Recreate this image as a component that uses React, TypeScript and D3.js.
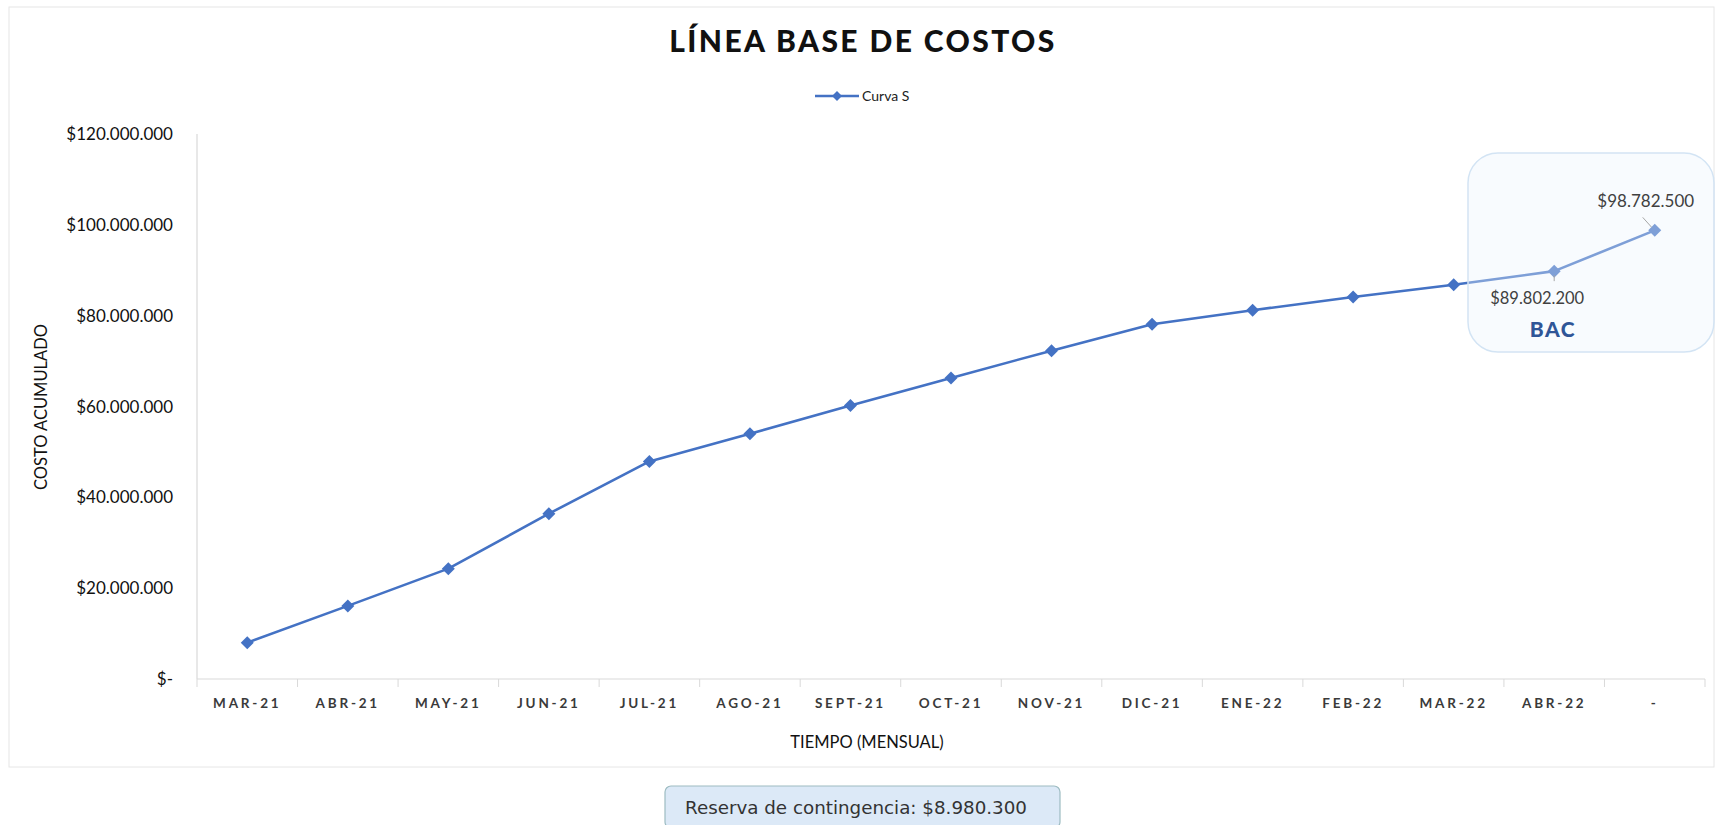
import React from 'react';
import * as d3 from 'd3';

// Datos
const categories = ['MAR-21', 'ABR-21', 'MAY-21', 'JUN-21', 'JUL-21', 'AGO-21', 'SEPT-21', 'OCT-21', 'NOV-21', 'DIC-21', 'ENE-22', 'FEB-22', 'MAR-22', 'ABR-22', '-'];
const costs = [8000000, 16100000, 24300000, 36400000, 47900000, 54000000, 60200000, 66300000, 72300000, 78100000, 81200000, 84100000, 86800000, 89802200, 98782500];
const yTicks = [0, 20000000, 40000000, 60000000, 80000000, 100000000, 120000000];
const seriesName = 'Curva S';
const contingency = 8980300;

const W = 1717;
const H = 825;
const BLUE = '#4472c4';
const FONT = 'Lato, "Open Sans", sans-serif';

const money = (v: number) => (v === 0 ? '$-' : '$' + d3.format(',')(v).replace(/,/g, '.'));

const diamond = (cx: number, cy: number, r: number) =>
  `M${cx},${cy - r}L${cx + r},${cy}L${cx},${cy + r}L${cx - r},${cy}Z`;

const App = () => {
  const x = d3.scaleBand().domain(categories).range([197, 1705]);
  const y = d3.scaleLinear().domain([0, 120000000]).range([679, 134]);
  const cx = (c: string) => (x(c) as number) + x.bandwidth() / 2;

  const line = d3.line<number>()
    .x((_, i) => cx(categories[i]))
    .y(d => y(d));

  const last = costs.length - 1;
  const pLast = { x: cx(categories[last]), y: y(costs[last]) };
  const pPrev = { x: cx(categories[last - 1]), y: y(costs[last - 1]) };

  return (
    <div style={{ position: 'absolute', left: 0, top: 0 }}>
      <svg width={W} height={H} style={{ display: 'block', background: '#fff' }}>
        {/* chart frame */}
        <rect x={9} y={7} width={1705} height={760} fill="#fff" stroke="#e6e6e6" strokeWidth={1} />

        {/* title */}
        <text x={863} y={52} textAnchor="middle" fontFamily={FONT} fontWeight={900} fontSize={30} letterSpacing={2.4} fill="#111">
          LÍNEA BASE DE COSTOS
        </text>

        {/* legend */}
        <g>
          <line x1={815} x2={859} y1={96} y2={96} stroke={BLUE} strokeWidth={2.5} />
          <path d={diamond(837, 96, 5)} fill={BLUE} />
          <text x={862} y={101} fontFamily={FONT} fontSize={14} fill="#222">{seriesName}</text>
        </g>

        {/* y axis */}
        <line x1={197} x2={197} y1={134} y2={679} stroke="#d9d9d9" strokeWidth={1.2} />
        {yTicks.map(t => (
          <text key={t} x={173} y={y(t) + 6} textAnchor="end" fontFamily={FONT} fontSize={17} fill="#111">
            {money(t)}
          </text>
        ))}
        <text transform="translate(47,407) rotate(-90)" textAnchor="middle" fontFamily={FONT} fontSize={16.5} fill="#111">
          COSTO ACUMULADO
        </text>

        {/* x axis */}
        <line x1={197} x2={1705} y1={679} y2={679} stroke="#d9d9d9" strokeWidth={1.2} />
        {categories.map(c => (
          <line key={'t' + c} x1={x(c) as number} x2={x(c) as number} y1={679} y2={687} stroke="#d9d9d9" strokeWidth={1} />
        ))}
        <line x1={1705} x2={1705} y1={679} y2={687} stroke="#d9d9d9" strokeWidth={1} />
        {categories.map(c => (
          <text key={c} x={cx(c)} y={708} textAnchor="middle" fontFamily={FONT} fontWeight={700} fontSize={13.5} letterSpacing={2.8} fill="#3a3a3a">
            {c}
          </text>
        ))}
        <text x={867} y={748} textAnchor="middle" fontFamily={FONT} fontSize={16.5} fill="#111">
          TIEMPO (MENSUAL)
        </text>

        {/* series */}
        <path d={line(costs) || ''} fill="none" stroke={BLUE} strokeWidth={2.6} strokeLinejoin="round" />
        {costs.map((v, i) => (
          <path key={i} d={diamond(cx(categories[i]), y(v), 6.5)} fill={BLUE} />
        ))}

        {/* BAC highlight box */}
        <rect x={1468} y={153} width={246} height={199} rx={30} ry={30} fill="rgba(236,243,251,0.35)" stroke="#d3e4f4" strokeWidth={1.5} />
        <line x1={pLast.x - 12} y1={pLast.y - 13} x2={pLast.x - 3} y2={pLast.y - 3} stroke="#a6a6a6" strokeWidth={1} />
        <line x1={pPrev.x} y1={pPrev.y + 4} x2={pPrev.x} y2={pPrev.y + 10} stroke="#a6a6a6" strokeWidth={1} />
        <text x={pLast.x - 9} y={207} textAnchor="middle" fontFamily={FONT} fontSize={17} fill="#404040">
          {money(costs[last])}
        </text>
        <text x={pPrev.x - 17} y={304} textAnchor="middle" fontFamily={FONT} fontSize={16.5} fill="#404040">
          {money(costs[last - 1])}
        </text>
        <text x={1553} y={337} textAnchor="middle" fontFamily={FONT} fontWeight={900} fontSize={21} letterSpacing={1.5} fill="#2f5597">
          BAC
        </text>

        {/* contingency reserve box */}
        <rect x={665} y={786} width={395} height={42} rx={6} ry={6} fill="#dce9f7" stroke="#9dbcc2" strokeWidth={1.2} />
        <text x={856} y={814} textAnchor="middle" fontFamily='"DejaVu Sans", sans-serif' fontSize={18.3} fill="#333">
          Reserva de contingencia: {money(contingency)}
        </text>
      </svg>
    </div>
  );
};

export default App;
